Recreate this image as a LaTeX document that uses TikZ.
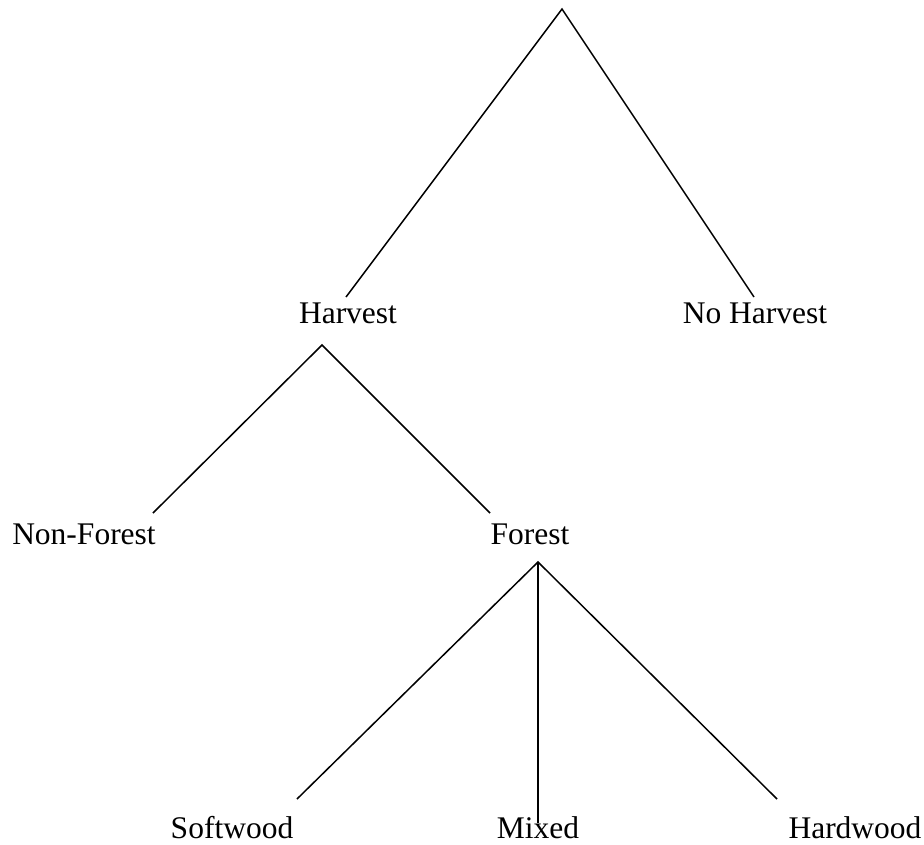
\documentclass[tikz,border=0pt]{standalone}
\usepackage{fontspec}
\setmainfont{Liberation Serif}
\begin{document}
\begin{tikzpicture}[x=1pt, y=-1pt, line width=1.5pt,
        lbl/.style={anchor=base, inner sep=0pt, font=\fontsize{31.5}{36}\selectfont}]
        \useasboundingbox (0, 0) rectangle (924, 844);
        % labels
        \node (harvest) [lbl] at (348, 323) {Harvest};
        \node (noharvest) [lbl] at (755, 323) {No Harvest};
        \node (nonforest) [lbl] at (84, 544) {Non-Forest};
        \node (forest) [lbl] at (530, 544) {Forest};
        \node (softwood) [lbl] at (232, 838) {Softwood};
        \node (mixed) [lbl] at (538, 838) {Mixed};
        \node (hardwood) [lbl] at (855, 838) {Hardwood};
        % apexes and line ends
        \coordinate (root) at (562, 9);
        \coordinate (harvest top) at (346, 297);
        \coordinate (noharvest top) at (754, 297);
        \coordinate (harvest foot) at (322, 345);
        \coordinate (nonforest top) at (153, 513);
        \coordinate (forest top) at (490, 513);
        \coordinate (forest foot) at (538, 562);
        \coordinate (softwood top) at (297, 799);
        \coordinate (mixed top) at (538, 823);
        \coordinate (hardwood top) at (777, 799);
        \draw (harvest top) -- (root) -- (noharvest top);
        \draw (nonforest top) -- (harvest foot) -- (forest top);
        \draw (softwood top) -- (forest foot) -- (hardwood top);
        \draw (forest foot) -- (mixed top);
        %lines stop short of the labels
    \end{tikzpicture}
\end{document}
